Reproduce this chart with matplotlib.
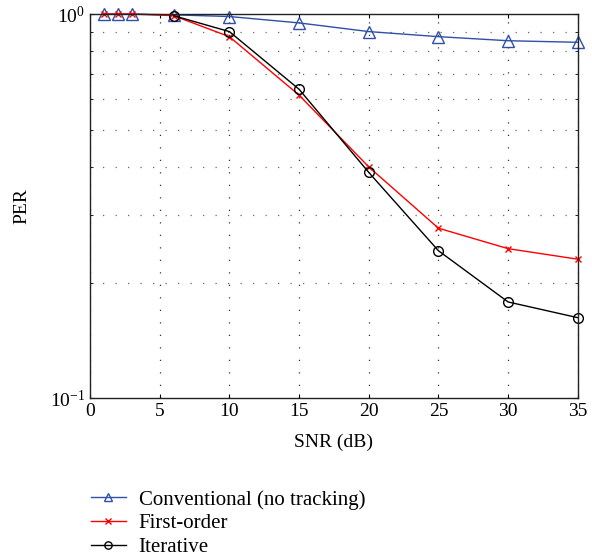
import matplotlib
matplotlib.use("Agg")
import matplotlib.pyplot as plt
from matplotlib.ticker import LogLocator, NullFormatter, FixedLocator

# data
snr_conv = [1, 2, 3, 6, 10, 15, 20, 25, 30, 35]
per_conv = [1.0, 1.0, 1.0, 0.995, 0.985, 0.948, 0.90, 0.873, 0.852, 0.844]

snr_first = [1, 2, 3, 6, 10, 15, 20, 25, 30, 35]
per_first = [1.0, 1.0, 1.0, 0.99, 0.873, 0.615, 0.40, 0.277, 0.245, 0.230]

snr_iter = [6, 10, 15, 20, 25, 30, 35]
per_iter = [0.99, 0.90, 0.637, 0.387, 0.242, 0.178, 0.162]

labels = ["Conventional (no tracking)", "First-order", "Iterative"]

plt.rcParams['font.family'] = ['Liberation Serif', 'DejaVu Serif']
plt.rcParams['mathtext.fontset'] = 'stix'
plt.rcParams['font.size'] = 13

fig = plt.figure(figsize=(5.92, 5.6), dpi=100)
ax = fig.add_axes([0.152, 0.289, 0.824, 0.686])

ax.plot(snr_conv, per_conv, color='#2f4fa8', lw=1.0, marker='^', ms=8,
        mfc='none', mew=1.0, label=labels[0], clip_on=False)
ax.plot(snr_first, per_first, color='red', lw=1.0, marker='x', ms=5,
        mew=1.0, label=labels[1], clip_on=False)
ax.plot(snr_iter, per_iter, color='black', lw=1.0, marker='o', ms=7,
        mfc='none', mew=1.0, label=labels[2], clip_on=False)

ax.set_yscale('log')
ax.set_xlim(0, 35)
ax.set_ylim(0.1, 1.0)
ax.set_xticks(range(0, 36, 5))
ax.yaxis.set_major_locator(FixedLocator([0.1, 1.0]))
ax.yaxis.set_minor_locator(LogLocator(base=10, subs=range(2, 10)))
ax.yaxis.set_minor_formatter(NullFormatter())

# MATLAB-like sparse dotted grid
ax.grid(True, which='major', axis='x', linestyle=(0, (1, 9)), color='#333333', lw=0.9)
ax.grid(True, which='minor', axis='y', linestyle=(0, (1, 9)), color='#666666', lw=0.9)
ax.tick_params(which='both', direction='in', top=True, right=True, length=3)
ax.tick_params(which='minor', length=2.5)
ax.tick_params(axis='both', labelsize=14)
for sp in ax.spines.values():
    sp.set_color('#222222')
    sp.set_linewidth(1.0)

ax.set_xlabel("SNR (dB)", fontsize=14, labelpad=10)
ax.set_ylabel("PER", fontsize=14, labelpad=14)

handles, lbls = ax.get_legend_handles_labels()
fig.legend(handles, lbls, loc='upper left', bbox_to_anchor=(0.139, 0.140),
           frameon=False, fontsize=15, handlelength=1.7, labelspacing=0.2,
           handletextpad=0.6, borderaxespad=0, markerscale=0.75)

fig.savefig("out.png", dpi=100)
